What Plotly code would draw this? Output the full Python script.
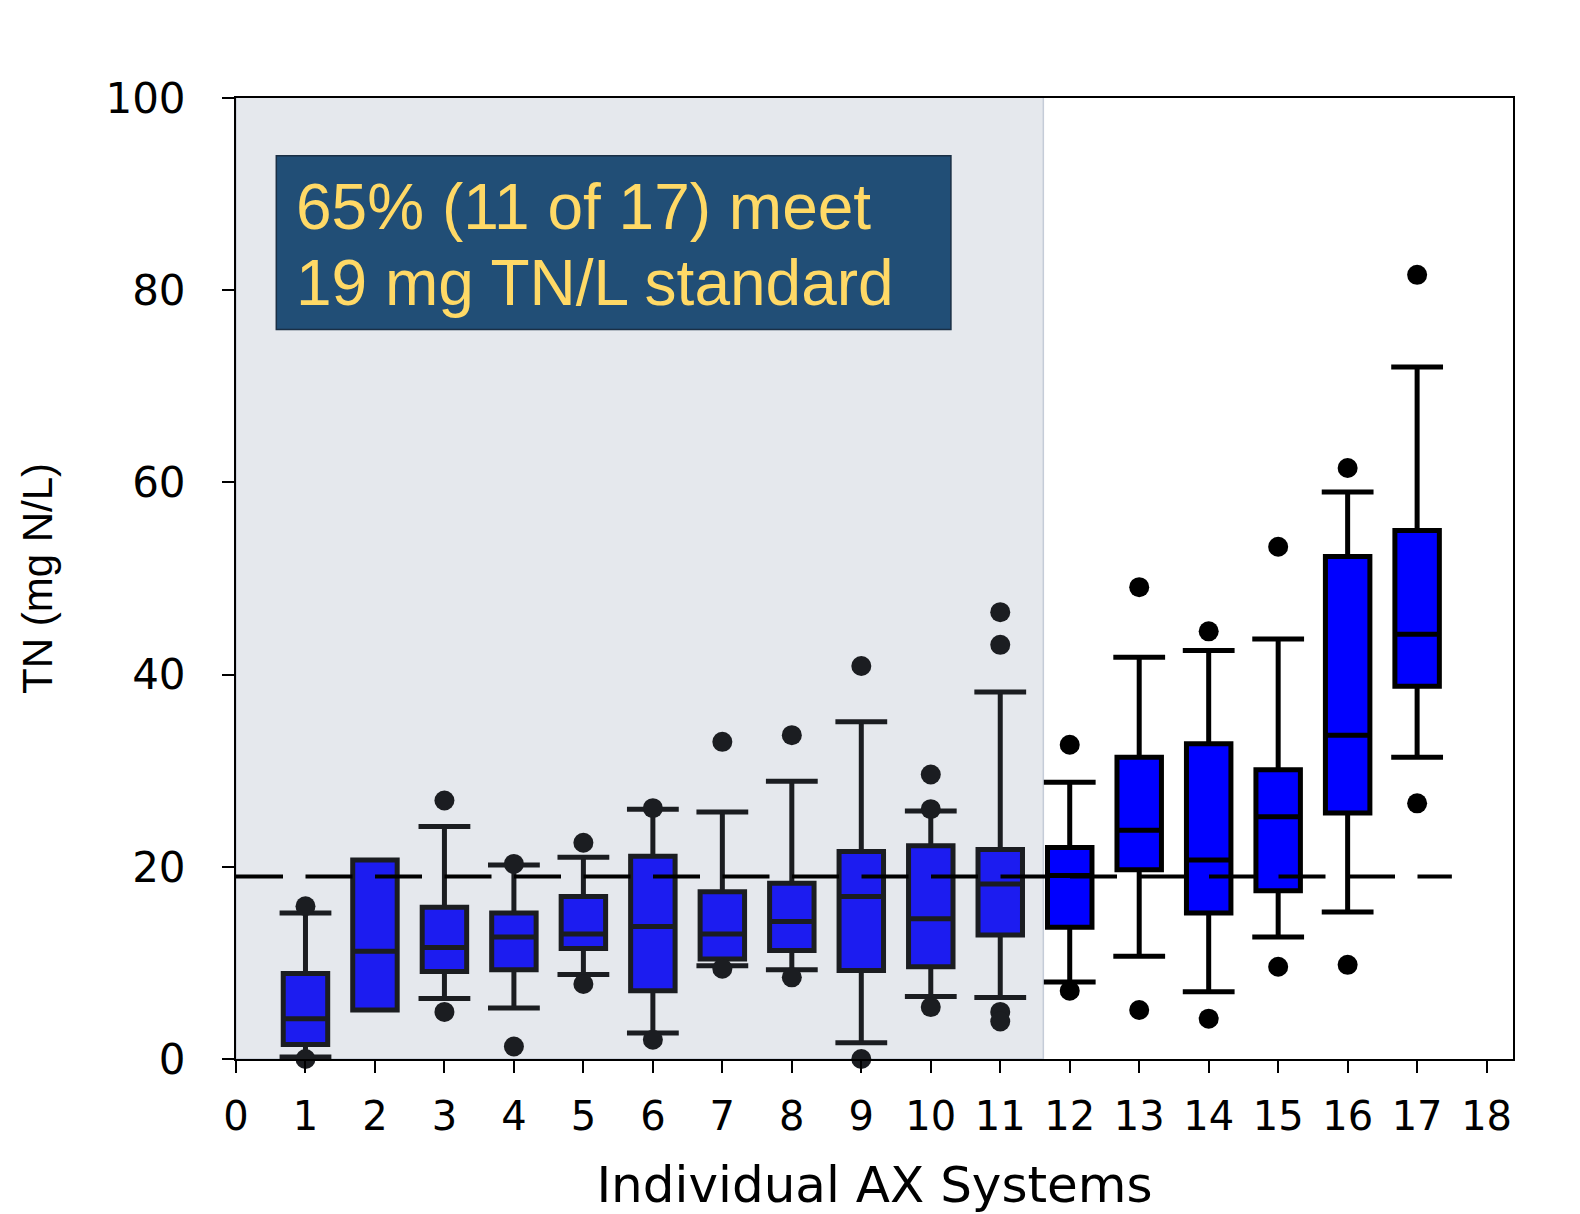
import plotly.graph_objects as go

# ---- data ----
systems = list(range(1, 18))
q1 = [1.5, 5.1, 9.1, 9.3, 11.5, 7.1, 10.4, 11.3, 9.2, 9.6, 12.9, 13.7, 19.7, 15.2, 17.5, 25.6, 38.8]
median = [4.2, 11.2, 11.6, 12.7, 13.0, 13.8, 13.0, 14.3, 16.9, 14.6, 18.2, 19.1, 23.8, 20.7, 25.2, 33.7, 44.2]
q3 = [8.9, 20.7, 15.8, 15.2, 16.9, 21.1, 17.4, 18.3, 21.6, 22.2, 21.8, 22.0, 31.4, 32.8, 30.1, 52.3, 55.0]
lower_fence = [0.2, 5.1, 6.3, 5.3, 8.8, 2.7, 9.7, 9.3, 1.7, 6.5, 6.4, 8.0, 10.7, 7.0, 12.7, 15.3, 31.4]
upper_fence = [15.2, 20.7, 24.2, 20.2, 21.0, 26.0, 25.7, 28.9, 35.1, 25.8, 38.2, 28.8, 41.8, 42.5, 43.7, 59.0, 72.0]
outlier_x = [1, 1, 3, 3, 4, 4, 5, 5, 6, 6, 7, 7, 8, 8, 9, 9, 10, 10, 10, 11, 11, 11, 11,
             12, 12, 13, 13, 14, 14, 15, 15, 16, 16, 17, 17]
outlier_y = [15.9, 0.0, 26.9, 4.9, 20.3, 1.3, 22.5, 7.8, 26.1, 2.0, 33.0, 9.4, 33.7, 8.5, 40.9, 0.0,
             29.6, 26.0, 5.4, 46.5, 43.1, 4.9, 3.9,
             32.7, 7.1, 49.1, 5.1, 44.5, 4.2, 53.3, 9.6, 61.5, 9.8, 81.6, 26.6]
standard = 19
n_meet = 11
x_ticks = list(range(0, 19))
y_ticks = [0, 20, 40, 60, 80, 100]
annotation_lines = ["65% (11 of 17) meet", "19 mg TN/L standard"]

# groups: systems meeting the standard (shaded) and the rest
groups = [
    dict(idx=range(0, n_meet), fill="#1C1CF0", line="#1B1D21"),
    dict(idx=range(n_meet, len(systems)), fill="#0000FF", line="#000000"),
]

fig = go.Figure()

for g in groups:
    ix = list(g["idx"])
    fig.add_trace(go.Box(
        x=[systems[i] for i in ix],
        q1=[q1[i] for i in ix],
        median=[median[i] for i in ix],
        q3=[q3[i] for i in ix],
        lowerfence=[lower_fence[i] for i in ix],
        upperfence=[upper_fence[i] for i in ix],
        boxpoints=False,
        width=0.64,
        whiskerwidth=0,
        fillcolor=g["fill"],
        line=dict(color=g["line"], width=5),
        showlegend=False,
        hoverinfo="skip",
    ))
    # whisker caps (only where the whisker extends beyond the box)
    cx, cy = [], []
    for i in ix:
        if upper_fence[i] > q3[i]:
            cx.append(systems[i]); cy.append(upper_fence[i])
        if lower_fence[i] < q1[i]:
            cx.append(systems[i]); cy.append(lower_fence[i])
    fig.add_trace(go.Scatter(
        x=cx, y=cy, mode="markers",
        marker=dict(symbol="line-ew", size=37, color=g["line"],
                    line=dict(color=g["line"], width=5)),
        showlegend=False, hoverinfo="skip", cliponaxis=False,
    ))
    # outliers
    ox = [x for x in outlier_x if (x - 1) in ix]
    oy = [y for x, y in zip(outlier_x, outlier_y) if (x - 1) in ix]
    fig.add_trace(go.Scatter(
        x=ox, y=oy, mode="markers",
        marker=dict(symbol="circle", size=20, color=g["line"], line=dict(width=0)),
        showlegend=False, hoverinfo="skip", cliponaxis=False,
    ))

# standard line
fig.add_trace(go.Scatter(
    x=[0, 17.5], y=[standard, standard], mode="lines",
    line=dict(color="#000000", width=4, dash="47px,22.5px"),
    showlegend=False, hoverinfo="skip",
))

# shaded region for systems meeting the standard
fig.add_shape(type="rect", xref="x", yref="y", x0=0, x1=n_meet + 0.62, y0=0, y1=100.2,
              fillcolor="#E5E8ED", line=dict(color="#C5CCD8", width=1.5), layer="below")

# annotation box
fig.add_shape(type="rect", xref="x", yref="y", x0=0.58, x1=10.29, y0=75.9, y1=94.0,
              fillcolor="#214E76", line=dict(color="#1A2F45", width=1.5), layer="above")
for txt, yv in zip(annotation_lines, [88.7, 80.7]):
    fig.add_annotation(x=0.84, y=yv, xref="x", yref="y", text=txt, showarrow=False,
                       xanchor="left", yanchor="middle",
                       font=dict(family="Liberation Sans, Arial, sans-serif", size=64, color="#FFD966"))

fig.update_layout(
    width=1580, height=1214,
    margin=dict(l=236, r=67, t=98, b=155),
    paper_bgcolor="white", plot_bgcolor="white",
    font=dict(family="DejaVu Sans, sans-serif", color="#000000"),
)
fig.update_xaxes(
    range=[0, 18.38], tickmode="array", tickvals=x_ticks, ticktext=[str(t) for t in x_ticks],
    ticks="outside", ticklen=12, tickwidth=2, tickcolor="#000000",
    showline=True, linecolor="#000000", linewidth=2, mirror=True,
    showgrid=False, zeroline=False, automargin=False,
    tickfont=dict(family="DejaVu Sans, sans-serif", size=40, color="#000000"),
    ticklabelstandoff=9,
    title=dict(text="Individual AX Systems", standoff=30,
               font=dict(family="DejaVu Sans, sans-serif", size=50, color="#000000")),
)
fig.update_yaxes(
    range=[0, 100], tickmode="array", tickvals=y_ticks, ticktext=[str(t) for t in y_ticks],
    ticks="outside", ticklen=12, tickwidth=2, tickcolor="#000000",
    showline=True, linecolor="#000000", linewidth=2, mirror=True,
    showgrid=False, zeroline=False, automargin=False,
    tickfont=dict(family="DejaVu Sans, sans-serif", size=42, color="#000000"),
    ticklabelstandoff=28,
    title=dict(text="TN (mg N/L)", standoff=40,
               font=dict(family="Liberation Sans, Arial, sans-serif", size=42, color="#000000")),
)

fig.write_html("out.html", config={"displayModeBar": False},
               post_script="document.body.style.margin='0';")
